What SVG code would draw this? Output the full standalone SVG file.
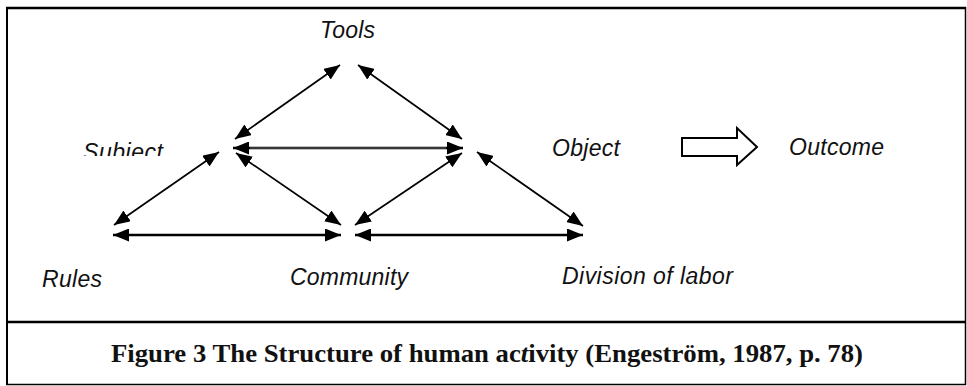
<svg xmlns="http://www.w3.org/2000/svg" width="967" height="386" viewBox="0 0 967 386">
  <style>
    .label { font-family: "Liberation Sans", Arial, sans-serif; font-style: italic; font-size: 23px; fill: #111; }
    .caption { font-family: "Liberation Serif", "Times New Roman", serif; font-weight: bold; font-size: 26px; fill: #111; }
    .link { stroke: #000; stroke-width: 1.7; fill: none; marker-start: url(#head); marker-end: url(#head); }
    .link.h { stroke-width: 2.3; }
    .frame { stroke: #000; fill: none; }
  </style>
  <defs>
    <marker id="head" viewBox="0 0 16 13" refX="16" refY="6.5" markerWidth="16" markerHeight="13" markerUnits="userSpaceOnUse" orient="auto-start-reverse">
      <path d="M0,0 L16,6.5 L0,13 z" fill="#000"/>
    </marker>
    <clipPath id="clipSubject">
      <rect x="70" y="120" width="120" height="36"/>
    </clipPath>
  </defs>

  <rect width="967" height="386" fill="#fff"/>

  <!-- outer frame and caption divider -->
  <g id="frame">
    <line class="frame" x1="6" y1="8" x2="966" y2="8" stroke-width="2.5"/>
    <line class="frame" x1="7" y1="7" x2="7" y2="385" stroke-width="2"/>
    <line class="frame" x1="965.5" y1="7" x2="965.5" y2="385" stroke-width="1.5"/>
    <line class="frame" x1="6" y1="384.5" x2="966" y2="384.5" stroke-width="1.5"/>
    <line class="frame" x1="6" y1="322" x2="966" y2="322" stroke-width="2.5"/>
  </g>

  <!-- nodes -->
  <g id="tools"><text class="label" x="320" y="38" textLength="55">Tools</text></g>
  <g id="subject" clip-path="url(#clipSubject)"><text class="label" x="83" y="160" textLength="80">Subject</text></g>
  <g id="object"><text class="label" x="552" y="156" textLength="68">Object</text></g>
  <g id="outcome"><text class="label" x="789" y="155" textLength="95">Outcome</text></g>
  <g id="rules"><text class="label" x="42" y="287" textLength="60">Rules</text></g>
  <g id="community"><text class="label" x="290" y="285" textLength="118">Community</text></g>
  <g id="division"><text class="label" x="562" y="284" textLength="171">Division of labor</text></g>

  <!-- transformation arrow from object to outcome -->
  <g id="transform-arrow">
    <polygon points="682,138 737,138 737,128 757,147 737,165 737,156 682,156" fill="#fff" stroke="#000" stroke-width="2" stroke-linejoin="miter"/>
  </g>

  <!-- connectors -->
  <g id="connectors">
    <line class="link" x1="340" y1="65" x2="235" y2="139"/>
    <line class="link" x1="358" y1="65" x2="462" y2="139"/>
    <line class="link h" x1="233" y1="148" x2="463" y2="148"/>
    <line x1="250" y1="148" x2="446" y2="148" stroke="#888" stroke-width="0.8"/>
    <line class="link" x1="219" y1="152" x2="114" y2="225"/>
    <line class="link" x1="236" y1="153" x2="341" y2="225"/>
    <line class="link" x1="462" y1="153" x2="355" y2="225"/>
    <line class="link" x1="477" y1="152" x2="583" y2="226"/>
    <line class="link h" x1="113" y1="235" x2="341" y2="235"/>
    <line class="link h" x1="355" y1="235" x2="583" y2="235"/>
  </g>

  <!-- caption -->
  <g id="caption">
    <text class="caption" x="111" y="362" textLength="752" lengthAdjust="spacingAndGlyphs">Figure 3 The Structure of human ac<tspan font-style="italic">t</tspan>ivity (Engeström, 1987, p. 78)</text>
  </g>
</svg>
